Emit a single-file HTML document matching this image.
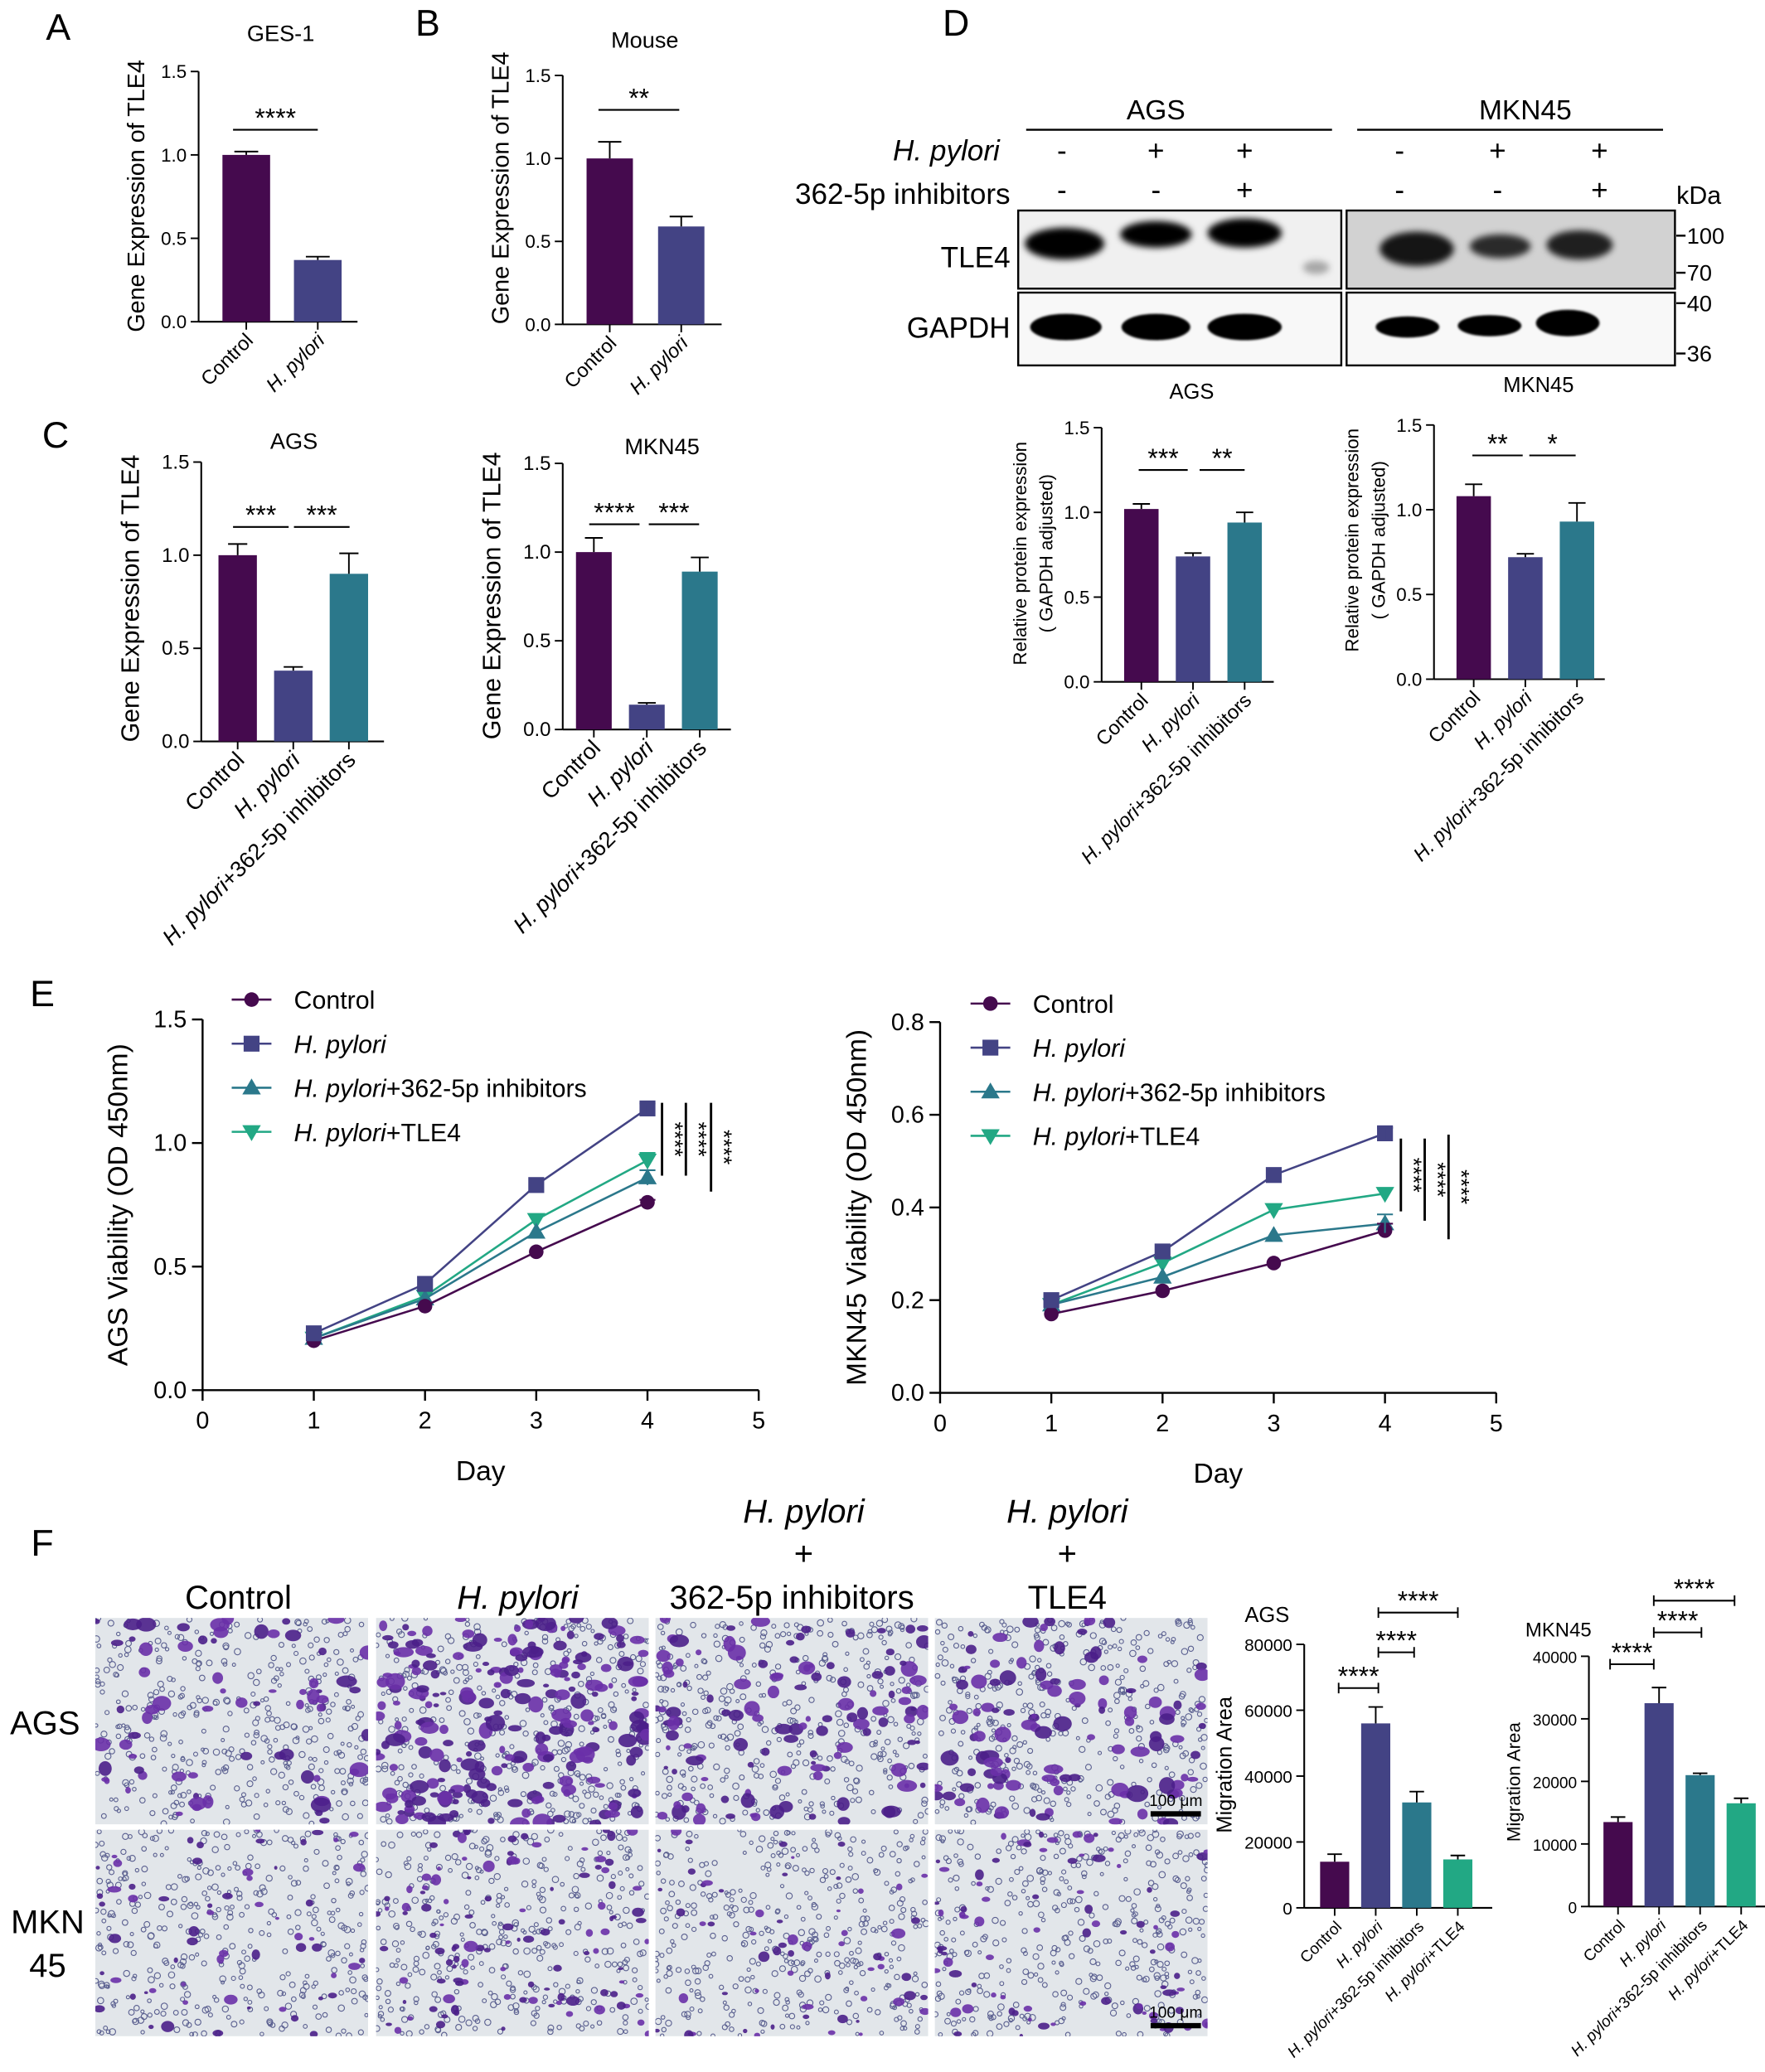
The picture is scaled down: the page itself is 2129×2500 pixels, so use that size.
<!DOCTYPE html>
<html><head><meta charset="utf-8"><style>
html,body{margin:0;padding:0;background:#fff}
svg{display:block}
text{font-family:"Liberation Sans",Arial,sans-serif;fill:#000}
</style></head><body>
<svg id="fig" xmlns="http://www.w3.org/2000/svg" width="2129" height="2500" viewBox="0 0 1333 1565" preserveAspectRatio="none">
<defs><filter id="blur" x="-20%" y="-50%" width="140%" height="200%"><feGaussianBlur stdDeviation="2.5"/></filter>
<filter id="blur1"><feGaussianBlur stdDeviation="0.8"/></filter></defs>
<rect width="1333" height="1565" fill="#fff"/>
</svg>
<script>
// ---- data ----
const aCats=['Control','H. pylori'];
const aVals=[1.0,0.37];
const aErr=[0.02,0.02];
const bCats=['Control','H. pylori'];
const bVals=[1.0,0.59];
const bErr=[0.10,0.06];
const c1Cats=['Control','H. pylori','H. pylori+362-5p inhibitors'];
const c1Vals=[1.0,0.38,0.90];
const c1Err=[0.06,0.02,0.11];
const c2Vals=[1.0,0.14,0.89];
const c2Err=[0.08,0.01,0.08];
const d1Vals=[1.02,0.74,0.94];
const d1Err=[0.03,0.02,0.06];
const d2Vals=[1.08,0.72,0.93];
const d2Err=[0.07,0.02,0.11];
const geneTicks=[0,0.5,1.0,1.5];
const days=[1,2,3,4];
const dayTicks=[0,1,2,3,4,5];
const eSeries=['Control','H. pylori','H. pylori+362-5p inhibitors','H. pylori+TLE4'];
const e1Control=[0.20,0.34,0.56,0.76];
const e1Hp=[0.23,0.43,0.83,1.14];
const e1Inh=[0.21,0.37,0.64,0.86];
const e1Tle=[0.21,0.38,0.69,0.93];
const e1Ticks=[0,0.5,1.0,1.5];
const e2Control=[0.17,0.22,0.28,0.35];
const e2Hp=[0.20,0.305,0.47,0.56];
const e2Inh=[0.19,0.25,0.34,0.365];
const e2Tle=[0.19,0.28,0.395,0.43];
const e2Ticks=[0,0.2,0.4,0.6,0.8];
const fCats=['Control','H. pylori','H. pylori+362-5p inhibitors','H. pylori+TLE4'];
const f1Vals=[14000,56000,32000,14700];
const f1Err=[2300,5000,3300,1200];
const f1Ticks=[0,20000,40000,60000,80000];
const f2Vals=[13500,32500,21000,16500];
const f2Err=[800,2500,300,800];
const f2Ticks=[0,10000,20000,30000,40000];

const COL=['#450a4e','#434384','#2b788b','#22a884'];
const NS='http://www.w3.org/2000/svg';
const svg=document.getElementById('fig');
function mk(tag,attrs,parent,name){
  const e=document.createElementNS(NS,tag);
  for(const k in attrs) e.setAttribute(k,attrs[k]);
  
  
  (parent||svg).appendChild(e);
  return e;
}
function txt(x,y,s,size,name,opts){
  opts=opts||{};
  const t=mk('text',{x:x,y:y,'font-size':size,'text-anchor':opts.anchor||'middle'},opts.parent,name);
  if(opts.italic) t.setAttribute('font-style','italic');
  if(opts.rot!==undefined) t.setAttribute('transform','rotate('+opts.rot+' '+x+' '+y+')');
  t.textContent=s;
  return t;
}
function catLabel(x,y,s,size,name,rot){
  const t=mk('text',{x:x,y:y,'font-size':size,'text-anchor':'end',transform:'rotate('+rot+' '+x+' '+y+')'},svg,name);
  if(s.startsWith('H. pylori')){
    const a=mk('tspan',{'font-style':'italic'},t,name+'-italic');
    a.textContent='H. pylori';
    if(s.length>9){const b=mk('tspan',{},t,name+'-rest'); b.textContent=s.slice(9);}
  } else t.textContent=s;
}
function fmt(v,d){return d===0?String(v):v.toFixed(d);}
function barChart(c){
  const g=mk('g',{},svg,c.name);
  const yS=v=>c.y0-(v/c.max)*(c.y0-c.yTop);
  mk('line',{x1:c.ax,y1:c.yTop,x2:c.ax,y2:c.y0,stroke:'#000','stroke-width':1.3},g,c.name+'-y-axis');
  mk('line',{x1:c.ax,y1:c.y0,x2:c.xEnd,y2:c.y0,stroke:'#000','stroke-width':1.3},g,c.name+'-x-axis');
  c.ticks.forEach(t=>{
    const y=yS(t);
    mk('line',{x1:c.ax-6,y1:y,x2:c.ax,y2:y,stroke:'#000','stroke-width':1.2},g,c.name+'-y-tick');
    txt(c.ax-9,y+5,fmt(t,c.dec),c.tfs||14,c.name+'-y-tick-label',{anchor:'end',parent:g});
  });
  c.vals.forEach((v,i)=>{
    const x=c.bx+i*c.step, cx=x+c.bw/2;
    mk('rect',{x:x,y:yS(v),width:c.bw,height:c.y0-yS(v),fill:COL[i]},g,c.name+'-bar-'+i);
    const et=yS(v+c.errs[i]);
    mk('line',{x1:cx,y1:yS(v),x2:cx,y2:et,stroke:'#000','stroke-width':1.2},g,c.name+'-error-bar-'+i);
    mk('line',{x1:cx-c.bw/4,y1:et,x2:cx+c.bw/4,y2:et,stroke:'#000','stroke-width':1.2},g,c.name+'-error-cap-'+i);
    mk('line',{x1:cx,y1:c.y0,x2:cx,y2:c.y0+6,stroke:'#000','stroke-width':1.2},g,c.name+'-x-tick');
    catLabel(cx+6,c.y0+15,c.cats[i],c.lfs||15,c.name+'-x-label-'+i,-45);
  });
  if(c.title) txt(c.title[0],c.title[1],c.title[2],c.titleSize||17,c.name+'-title',{anchor:c.titleAnchor||'middle'});
  if(c.ytitle) c.ytitle.forEach((yt,k)=>txt(yt[0],yt[1],yt[2],yt[3],c.name+'-y-axis-title',{rot:-90}));
  return yS;
}
function sig(x1,x2,y,s,name,caps){
  mk('line',{x1:x1,y1:y,x2:x2,y2:y,stroke:'#000','stroke-width':1.3},svg,name+'-line');
  if(caps){
    mk('line',{x1:x1,y1:y-4,x2:x1,y2:y+4,stroke:'#000','stroke-width':1.2},svg,name+'-cap');
    mk('line',{x1:x2,y1:y-4,x2:x2,y2:y+4,stroke:'#000','stroke-width':1.2},svg,name+'-cap');
  }
  txt((x1+x2)/2,y-2,s,20,name+'-stars',{});
}

// panel letters
[['A',44,30],['B',323,27],['C',42,338],['D',722,27],['E',32,760],['F',32,1175]].forEach(p=>txt(p[1],p[2],p[0],28,'panel-letter-'+p[0].toLowerCase(),{}));

// A
barChart({name:'chart-a-ges1',ax:150,yTop:54,y0:243,max:1.5,ticks:geneTicks,dec:1,xEnd:270,bx:168,bw:36,step:54,cats:aCats,vals:aVals,errs:aErr,title:[212,31,'GES-1'],ytitle:[[109,148,'Gene Expression of TLE4',18]]});
sig(176,240,98,'****','sig-a');
// B
barChart({name:'chart-b-mouse',ax:425,yTop:57,y0:245,max:1.5,ticks:geneTicks,dec:1,xEnd:545,bx:443,bw:35,step:54,cats:bCats,vals:bVals,errs:bErr,title:[487,36,'Mouse'],ytitle:[[384,142,'Gene Expression of TLE4',18]]});
sig(452,513,83,'**','sig-b');
// C
barChart({name:'chart-c-ags',ax:152,yTop:349,y0:560,max:1.5,ticks:geneTicks,dec:1,xEnd:290,bx:165,bw:29,step:42,cats:c1Cats,vals:c1Vals,errs:c1Err,lfs:17,tfs:15,title:[222,339,'AGS',18],ytitle:[[105,452,'Gene Expression of TLE4',19]]});
sig(176,218,398,'***','sig-c-ags-1');sig(222,264,398,'***','sig-c-ags-2');
barChart({name:'chart-c-mkn45',ax:425,yTop:350,y0:551,max:1.5,ticks:geneTicks,dec:1,xEnd:552,bx:435,bw:27,step:40,cats:c1Cats,vals:c2Vals,errs:c2Err,lfs:17,tfs:15,title:[500,343,'MKN45',18],ytitle:[[378,450,'Gene Expression of TLE4',19]]});
sig(445,483,396,'****','sig-c-mkn-1');sig(490,528,396,'***','sig-c-mkn-2');

// D western blot
txt(873,90,'AGS',21,'blot-header-ags',{});
mk('line',{x1:775,y1:98,x2:1006,y2:98,stroke:'#000','stroke-width':1.5},svg,'blot-header-ags-line');
txt(1152,90,'MKN45',21,'blot-header-mkn45',{});
mk('line',{x1:1025,y1:98,x2:1256,y2:98,stroke:'#000','stroke-width':1.5},svg,'blot-header-mkn45-line');
txt(755,121,'H. pylori',22,'blot-row-label-hpylori',{anchor:'end',italic:true});
txt(763,154,'362-5p inhibitors',22,'blot-row-label-inhibitors',{anchor:'end'});
const signsA=['-','+','+'],signsB=['-','-','+'];
[[802,873,940],[1057,1131,1208]].forEach((xs,gi)=>xs.forEach((x,i)=>{
  txt(x,121,signsA[i],22,'blot-sign-hpylori',{});
  txt(x,151,signsB[i],22,'blot-sign-inhibitor',{});
}));
txt(1283,154,'kDa',19,'blot-kda-label',{});
txt(763,202,'TLE4',22,'blot-label-tle4',{anchor:'end'});
txt(763,255,'GAPDH',22,'blot-label-gapdh',{anchor:'end'});
function blotBox(x,y,w,h,bg,name){
  const g=mk('g',{},svg,name);
  mk('rect',{x:x,y:y,width:w,height:h,fill:bg,stroke:'#000','stroke-width':1.5},g,name+'-frame');
  return g;
}
const gA1=blotBox(769,159,244,59,'#f0f0f0','blot-ags-tle4');
[[804,184,30,12,1],[873,177,27,10,1],[940,176,28,11,1],[994,202,10,5,0.3]].forEach((b,i)=>mk('ellipse',{cx:b[0],cy:b[1],rx:b[2],ry:b[3],fill:'#000','fill-opacity':b[4],filter:'url(#blur)'},gA1,'band-ags-tle4-'+i));
const gB0=blotBox(769,221,244,55,'#f8f8f8','blot-ags-gapdh');
[[805,247,27,10],[873,247,26,10],[940,247,28,10]].forEach((b,i)=>mk('ellipse',{cx:b[0],cy:b[1],rx:b[2],ry:b[3],fill:'#000',filter:'url(#blur1)'},gB0,'band-ags-gapdh-'+i));
const gB1=blotBox(1017,159,248,59,'#d2d2d2','blot-mkn45-tle4');
[[1070,188,28,13,0.9],[1133,186,23,9,0.8],[1193,185,25,11,0.85]].forEach((b,i)=>mk('ellipse',{cx:b[0],cy:b[1],rx:b[2],ry:b[3],fill:'#000','fill-opacity':b[4],filter:'url(#blur)'},gB1,'band-mkn45-tle4-'+i));
const gB2=blotBox(1017,221,248,55,'#f8f8f8','blot-mkn45-gapdh');
[[1063,247,24,8],[1125,246,24,8],[1184,244,24,10]].forEach((b,i)=>mk('ellipse',{cx:b[0],cy:b[1],rx:b[2],ry:b[3],fill:'#000',filter:'url(#blur1)'},gB2,'band-mkn45-gapdh-'+i));
[['100',178],['70',206],['40',229],['36',267]].forEach(m=>{
  mk('line',{x1:1266,y1:m[1],x2:1273,y2:m[1],stroke:'#000','stroke-width':1.5},svg,'marker-tick-'+m[0]);
  txt(1274,m[1]+6,m[0],17,'marker-label-'+m[0],{anchor:'start'});
});
// D bar charts
barChart({name:'chart-d-ags',ax:832,yTop:323,y0:515,max:1.5,ticks:geneTicks,dec:1,xEnd:962,bx:849,bw:26,step:39,cats:c1Cats,vals:d1Vals,errs:d1Err,title:[900,301,'AGS'],titleSize:16,lfs:15,ytitle:[[775,418,'Relative protein expression',14],[795,418,'( GAPDH adjusted)',14]]});
sig(860,897,355,'***','sig-d-ags-1');sig(906,940,355,'**','sig-d-ags-2');
barChart({name:'chart-d-mkn45',ax:1083,yTop:321,y0:513,max:1.5,ticks:geneTicks,dec:1,xEnd:1212,bx:1100,bw:26,step:39,cats:c1Cats,vals:d2Vals,errs:d2Err,title:[1162,296,'MKN45'],titleSize:16,lfs:15,ytitle:[[1026,408,'Relative protein expression',14],[1046,408,'( GAPDH adjusted)',14]]});
sig(1112,1150,344,'**','sig-d-mkn-1');sig(1155,1190,344,'*','sig-d-mkn-2');

// E line charts
function marker(shape,x,y,col,parent,name){
  const s=6;
  if(shape===0) return mk('circle',{cx:x,cy:y,r:5.5,fill:col},parent,name);
  if(shape===1) return mk('rect',{x:x-s,y:y-s,width:2*s,height:2*s,fill:col},parent,name);
  if(shape===2) return mk('polygon',{points:(x)+','+(y-7)+' '+(x+7)+','+(y+5)+' '+(x-7)+','+(y+5),fill:col},parent,name);
  return mk('polygon',{points:(x)+','+(y+7)+' '+(x+7)+','+(y-5)+' '+(x-7)+','+(y-5),fill:col},parent,name);
}
function lineChart(c){
  const g=mk('g',{},svg,c.name);
  const xS=d=>c.x0+d*(c.x5-c.x0)/5;
  const yS=v=>c.y0-(v/c.max)*(c.y0-c.yTop);
  mk('line',{x1:c.x0,y1:c.yTop,x2:c.x0,y2:c.y0,stroke:'#000','stroke-width':1.5},g,c.name+'-y-axis');
  mk('line',{x1:c.x0,y1:c.y0,x2:c.x5,y2:c.y0,stroke:'#000','stroke-width':1.5},g,c.name+'-x-axis');
  c.ticks.forEach(t=>{const y=yS(t);
    mk('line',{x1:c.x0-8,y1:y,x2:c.x0,y2:y,stroke:'#000','stroke-width':1.5},g,c.name+'-y-tick');
    txt(c.x0-12,y+6,t.toFixed(1),18,c.name+'-y-tick-label',{anchor:'end',parent:g});});
  dayTicks.forEach(d=>{const x=xS(d);
    mk('line',{x1:x,y1:c.y0,x2:x,y2:c.y0+8,stroke:'#000','stroke-width':1.5},g,c.name+'-x-tick');
    txt(x,c.y0+29,String(d),18,c.name+'-x-tick-label',{parent:g});});
  txt((c.x0+c.x5)/2,c.y0+68,'Day',21,c.name+'-x-axis-title',{});
  txt(c.ytx,(c.y0+c.yTop)/2,c.ytitle,21,c.name+'-y-axis-title',{rot:-90});
  [3,2,0,1].forEach(si=>{
    const vals=c.series[si];
    const pts=days.map((d,i)=>xS(d)+','+yS(vals[i])).join(' ');
    mk('polyline',{points:pts,fill:'none',stroke:COL[si],'stroke-width':1.6},g,c.name+'-line-'+si);
    days.forEach((d,i)=>marker(si,xS(d),yS(vals[i]),COL[si],g,c.name+'-point-'+si));
  });
  c.errs.forEach((e,si)=>{const x=xS(4),v=c.series[si][3];
    mk('line',{x1:x,y1:yS(v+e),x2:x,y2:yS(v-e),stroke:COL[si],'stroke-width':1.3},g,c.name+'-error-bar');
    mk('line',{x1:x-6,y1:yS(v+e),x2:x+6,y2:yS(v+e),stroke:COL[si],'stroke-width':1.3},g,c.name+'-error-cap');});
  eSeries.forEach((s,si)=>{const y=c.ly+si*33.3;
    mk('line',{x1:c.lx,y1:y,x2:c.lx+30,y2:y,stroke:COL[si],'stroke-width':1.6},g,c.name+'-legend-line');
    marker(si,c.lx+15,y,COL[si],g,c.name+'-legend-marker');
    const t=mk('text',{x:c.lx+47,y:y+7,'font-size':19},g,c.name+'-legend-entry-'+si);
    if(s.startsWith('H. pylori')){const a=mk('tspan',{'font-style':'italic'},t,'legend-italic');a.textContent='H. pylori';
      if(s.length>9){const b=mk('tspan',{},t,'legend-rest');b.textContent=s.slice(9);}}
    else t.textContent=s;});
  c.sigs.forEach((s,k)=>{
    mk('line',{x1:s[0],y1:s[1],x2:s[0],y2:s[2],stroke:'#000','stroke-width':1.8},g,c.name+'-sig-line');
    txt(s[0]+4,(s[1]+s[2])/2,'****',17,c.name+'-sig-stars',{rot:90});
  });
}
lineChart({name:'chart-e-ags',x0:153,x5:573,y0:1050,yTop:770,max:1.5,ticks:e1Ticks,series:[e1Control,e1Hp,e1Inh,e1Tle],errs:[0.01,0.02,0.03,0.03],ytitle:'AGS Viability (OD 450nm)',ytx:96,lx:175,ly:755,sigs:[[500,833,888],[518,833,888],[537,833,900]]});
lineChart({name:'chart-e-mkn45',x0:710,x5:1130,y0:1052,yTop:772,max:0.8,ticks:e2Ticks,series:[e2Control,e2Hp,e2Inh,e2Tle],errs:[0.015,0.012,0.02,0.01],ytitle:'MKN45 Viability (OD 450nm)',ytx:654,lx:733,ly:758,sigs:[[1058,860,915],[1076,860,922],[1094,857,936]]});

// F microscopy
let seed=12345;
function rnd(){seed=(seed*1103515245+12345)%2147483648;return seed/2147483648;}
const colX=[72,284,495,706], rowY=[1222,1382], pw=206, ph=156;
const blobCount=[[70,230,120,110],[60,110,60,80]];
const headers=[[180,1215,'Control',false],[391,1215,'H. pylori',true],[598,1215,'362-5p inhibitors',false],[806,1215,'TLE4',false],[607,1150,'H. pylori',true],[607,1182,'+',false],[806,1150,'H. pylori',true],[806,1182,'+',false]];
headers.forEach(h=>txt(h[0],h[1],h[2],25,'microscopy-column-header',{italic:h[3]}));
txt(34,1310,'AGS',25,'microscopy-row-label-ags',{});
txt(36,1460,'MKN',25,'microscopy-row-label-mkn45',{});
txt(36,1493,'45',25,'microscopy-row-label-mkn45-2',{});
rowY.forEach((y,r)=>colX.forEach((x,c)=>{
  const g=mk('g',{},svg,'microscopy-image-r'+r+'-c'+c);
  const clip=mk('clipPath',{id:'cp'+r+c},g,'clip');
  mk('rect',{x:x,y:y,width:pw,height:ph},clip,'clip-rect');
  const inner=mk('g',{'clip-path':'url(#cp'+r+c+')'},g,'microscopy-content');
  mk('rect',{x:x,y:y,width:pw,height:ph,fill:'#e2e6ea'},inner,'microscopy-bg');
  for(let i=0;i<380;i++){mk('circle',{cx:x+rnd()*pw,cy:y+rnd()*ph,r:1.2+rnd()*1.2,fill:'none',stroke:'#5b6090','stroke-width':0.7},inner,'pore');}
  const n=blobCount[r][c];
  for(let i=0;i<n;i++){const bx=x+rnd()*pw,by=y+rnd()*ph,s=r===0?2+rnd()*4:1.5+rnd()*2.5;
    mk('ellipse',{cx:bx,cy:by,rx:s*(0.8+rnd()*0.6),ry:s*(0.6+rnd()*0.5),fill:rnd()>0.5?'#4b1f8a':'#6a30a8','fill-opacity':0.9},inner,'cell');}
  if(c===3){mk('rect',{x:x+163,y:y+ph-10,width:38,height:4,fill:'#000'},inner,'scale-bar');
    txt(x+182,y+ph-14,'100 μm',12,'scale-bar-label',{parent:inner});}
}));
// F bar charts
barChart({name:'chart-f-ags',ax:985,yTop:1242,y0:1441,max:80000,ticks:f1Ticks,dec:0,tfs:13,xEnd:1127,bx:997,bw:22,step:31,cats:fCats,vals:f1Vals,errs:f1Err,lfs:12,title:[940,1225,'AGS'],titleSize:16,titleAnchor:'start',ytitle:[[930,1333,'Migration Area',16]]});
sig(1011,1041,1275,'****','sig-f-ags-1',true);sig(1041,1068,1248,'****','sig-f-ags-2',true);sig(1041,1101,1218,'****','sig-f-ags-3',true);
barChart({name:'chart-f-mkn45',ax:1200,yTop:1251,y0:1440,max:40000,ticks:f2Ticks,dec:0,tfs:12,xEnd:1334,bx:1211,bw:22,step:31,cats:fCats,vals:f2Vals,errs:f2Err,lfs:12,title:[1152,1236,'MKN45'],titleSize:15,titleAnchor:'start',ytitle:[[1148,1346,'Migration Area',14]]});
sig(1216,1249,1257,'****','sig-f-mkn-1',true);sig(1249,1285,1233,'****','sig-f-mkn-2',true);sig(1249,1310,1209,'****','sig-f-mkn-3',true);
</script>
</body></html>
